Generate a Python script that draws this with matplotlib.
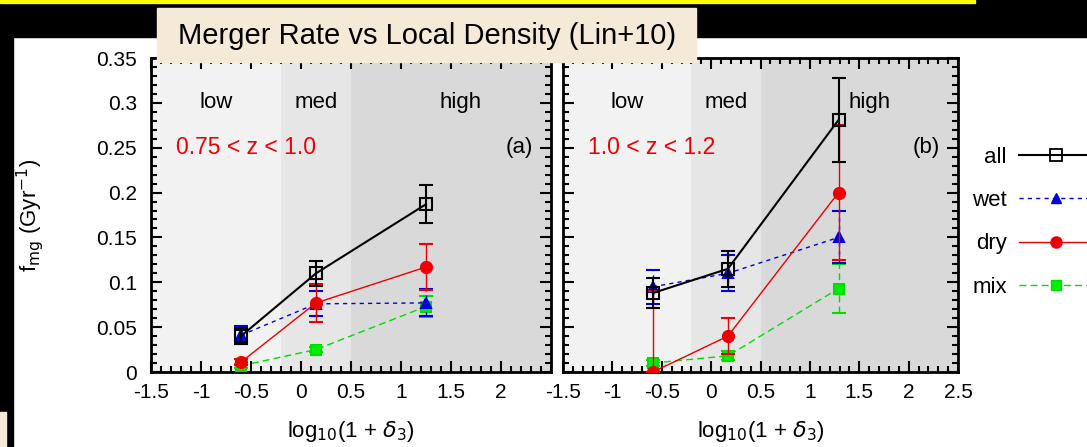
import numpy as np
import matplotlib.pyplot as plt
from matplotlib.patches import Rectangle
from matplotlib.lines import Line2D
from matplotlib.ticker import MultipleLocator

plt.rcParams['font.family'] = ['Liberation Sans', 'DejaVu Sans']

# Data, panel (a): 0.75 < z < 1.0
x_a = [-0.6, 0.15, 1.25]
all_a = [0.040, 0.110, 0.187]
all_a_err = [0.009, 0.014, 0.021]
wet_a = [0.041, 0.076, 0.077]
wet_a_err = [0.010, 0.014, 0.015]
dry_a = [0.011, 0.077, 0.117]
dry_a_err = [0.003, 0.021, 0.026]
mix_a = [0.007, 0.025, 0.073]
mix_a_err = [0.002, 0.003, 0.012]

# Data, panel (b): 1.0 < z < 1.2
x_b = [-0.59, 0.17, 1.29]
all_b = [0.088, 0.115, 0.281]
all_b_err = [0.017, 0.020, 0.047]
wet_b = [0.095, 0.110, 0.150]
wet_b_err = [0.019, 0.020, 0.029]
dry_b = [0.000, 0.040, 0.200]
dry_b_lo = [0.000, 0.020, 0.075]
dry_b_hi = [0.090, 0.020, 0.075]
mix_b = [0.010, 0.018, 0.093]
mix_b_err = [0.003, 0.005, 0.027]

regions = [(-1.5, -0.2, '#f2f2f2'), (-0.2, 0.5, '#e6e6e6'), (0.5, 2.5, '#d9d9d9')]
region_labels = ['low', 'med', 'high']
region_label_x = [-0.85, 0.15, 1.6]

W, H = 1087, 447
fig = plt.figure(figsize=(W / 100, H / 100), dpi=100)

# slide background bits
fig.patches.append(Rectangle((0, 1 - 37 / H), 1, 37 / H, transform=fig.transFigure,
                             color='black', zorder=0))
fig.patches.append(Rectangle((0, 0), 13 / W, 1, transform=fig.transFigure,
                             color='black', zorder=0))
fig.patches.append(Rectangle((0, 0), 6 / W, 35 / H, transform=fig.transFigure,
                             color='#f5ead8', zorder=1))
fig.patches.append(Rectangle((0, 1 - 3 / H), 975 / W, 3 / H, transform=fig.transFigure,
                             color='#ffff00', zorder=1))

ax_a = fig.add_axes([151 / W, 1 - 372 / H, 400 / W, 314 / H])
ax_b = fig.add_axes([563 / W, 1 - 372 / H, 395 / W, 314 / H])


def draw_series(ax, x, y, err, color, marker, ls, lw, mfc, ms, z):
    eb = ax.errorbar(x, y, yerr=err, color=color, marker=marker, linestyle=ls,
                     linewidth=lw, markerfacecolor=mfc, markeredgecolor=color,
                     markersize=ms, capsize=5, capthick=lw, elinewidth=lw,
                     markeredgewidth=1.5, zorder=z)
    for line in eb[2]:
        line.set_linestyle(ls)
    return eb


for ax, x, data, tag, zlabel in [
        (ax_a, x_a, (all_a, all_a_err, wet_a, wet_a_err, dry_a, dry_a_err, mix_a, mix_a_err),
         '(a)', '0.75 < z < 1.0'),
        (ax_b, x_b, (all_b, all_b_err, wet_b, wet_b_err, dry_b, [dry_b_lo, dry_b_hi], mix_b, mix_b_err),
         '(b)', '1.0 < z < 1.2')]:
    for x0, x1, c in regions:
        ax.axvspan(x0, x1, color=c, zorder=0, lw=0)
    for lab, lx in zip(region_labels, region_label_x):
        ax.text(lx, 0.3, lab, ha='center', va='center', fontsize=16)
    ax.text(-1.25, 0.25, zlabel, color='#ee0000', ha='left', va='center', fontsize=16.5)
    ax.text(2.18, 0.25, tag, ha='center', va='center', fontsize=16)

    a, ae, w, we, d, de, m, me = data
    draw_series(ax, x, m, me, '#00dd00', 's', (0, (5, 3)), 1.0, '#00ee00', 7.5, 3)
    draw_series(ax, x, w, we, '#0000dd', '^', (0, (3, 3)), 1.0, '#0000dd', 6.5, 4)
    draw_series(ax, x, d, de, '#ee0000', 'o', '-', 1.0, '#ee0000', 8, 5)
    draw_series(ax, x, a, ae, 'black', 's', '-', 1.5, 'none', 9, 6)

    ax.set_xlim(-1.5, 2.5)
    ax.set_ylim(0, 0.35)
    ax.xaxis.set_major_locator(MultipleLocator(0.5))
    ax.xaxis.set_minor_locator(MultipleLocator(0.1))
    ax.yaxis.set_major_locator(MultipleLocator(0.05))
    ax.yaxis.set_minor_locator(MultipleLocator(0.01))
    ax.tick_params(which='both', direction='in', top=True, right=True, labelsize=15, width=1.5)
    ax.tick_params(which='major', length=8)
    ax.tick_params(which='minor', length=4)
    for s in ax.spines.values():
        s.set_linewidth(2)
    ax.set_xlabel(r'log$_{10}$(1 + $\delta_3$)', fontsize=16, labelpad=12)

ax_a.set_xticks([-1.5, -1, -0.5, 0, 0.5, 1, 1.5, 2])
ax_a.set_xticklabels(['-1.5', '-1', '-0.5', '0', '0.5', '1', '1.5', '2'])
ax_a.set_xlim(-1.5, 2.5)
ax_b.set_xticks([-1.5, -1, -0.5, 0, 0.5, 1, 1.5, 2, 2.5])
ax_b.set_xticklabels(['-1.5', '-1', '-0.5', '0', '0.5', '1', '1.5', '2', '2.5'])
ax_a.set_yticks([0, 0.05, 0.1, 0.15, 0.2, 0.25, 0.3, 0.35])
ax_a.set_yticklabels(['0', '0.05', '0.1', '0.15', '0.2', '0.25', '0.3', '0.35'])
ax_b.tick_params(labelleft=False)
ax_a.tick_params(axis='x', pad=8)
ax_b.tick_params(axis='x', pad=8)
ax_a.tick_params(axis='y', pad=10)
ax_a.set_ylabel(r'f$_{\rm mg}$ (Gyr$^{-1}$)', fontsize=16, labelpad=36)

# legend
handles = [
    Line2D([], [], color='black', lw=1.5, marker='s', mfc='none', ms=8, mew=1.3),
    Line2D([], [], color='#0000dd', lw=1.0, ls=(0, (3, 3)), marker='^', ms=6.5),
    Line2D([], [], color='#ee0000', lw=1.0, marker='o', ms=8),
    Line2D([], [], color='#00dd00', lw=1.0, ls=(0, (5, 3)), marker='s', mfc='#00ee00', ms=7.5),
]
fig.legend(handles, ['all', 'wet', 'dry', 'mix'], loc='upper left',
           bbox_to_anchor=(952 / W, 1 - 127 / H), frameon=False, markerfirst=False,
           fontsize=16, handlelength=3.3, labelspacing=1.0, handletextpad=0.55)

# title box
fig.text(427 / W, 1 - 36 / H, 'Merger Rate vs Local Density (Lin+10)', ha='center', va='center',
         fontsize=21, zorder=10)
fig.patches.append(Rectangle((157 / W, 1 - 62 / H), 539 / W, 54 / H, transform=fig.transFigure,
                             color='#f5ead8', zorder=9))

fig.savefig('out.png', dpi=100, facecolor='white')
